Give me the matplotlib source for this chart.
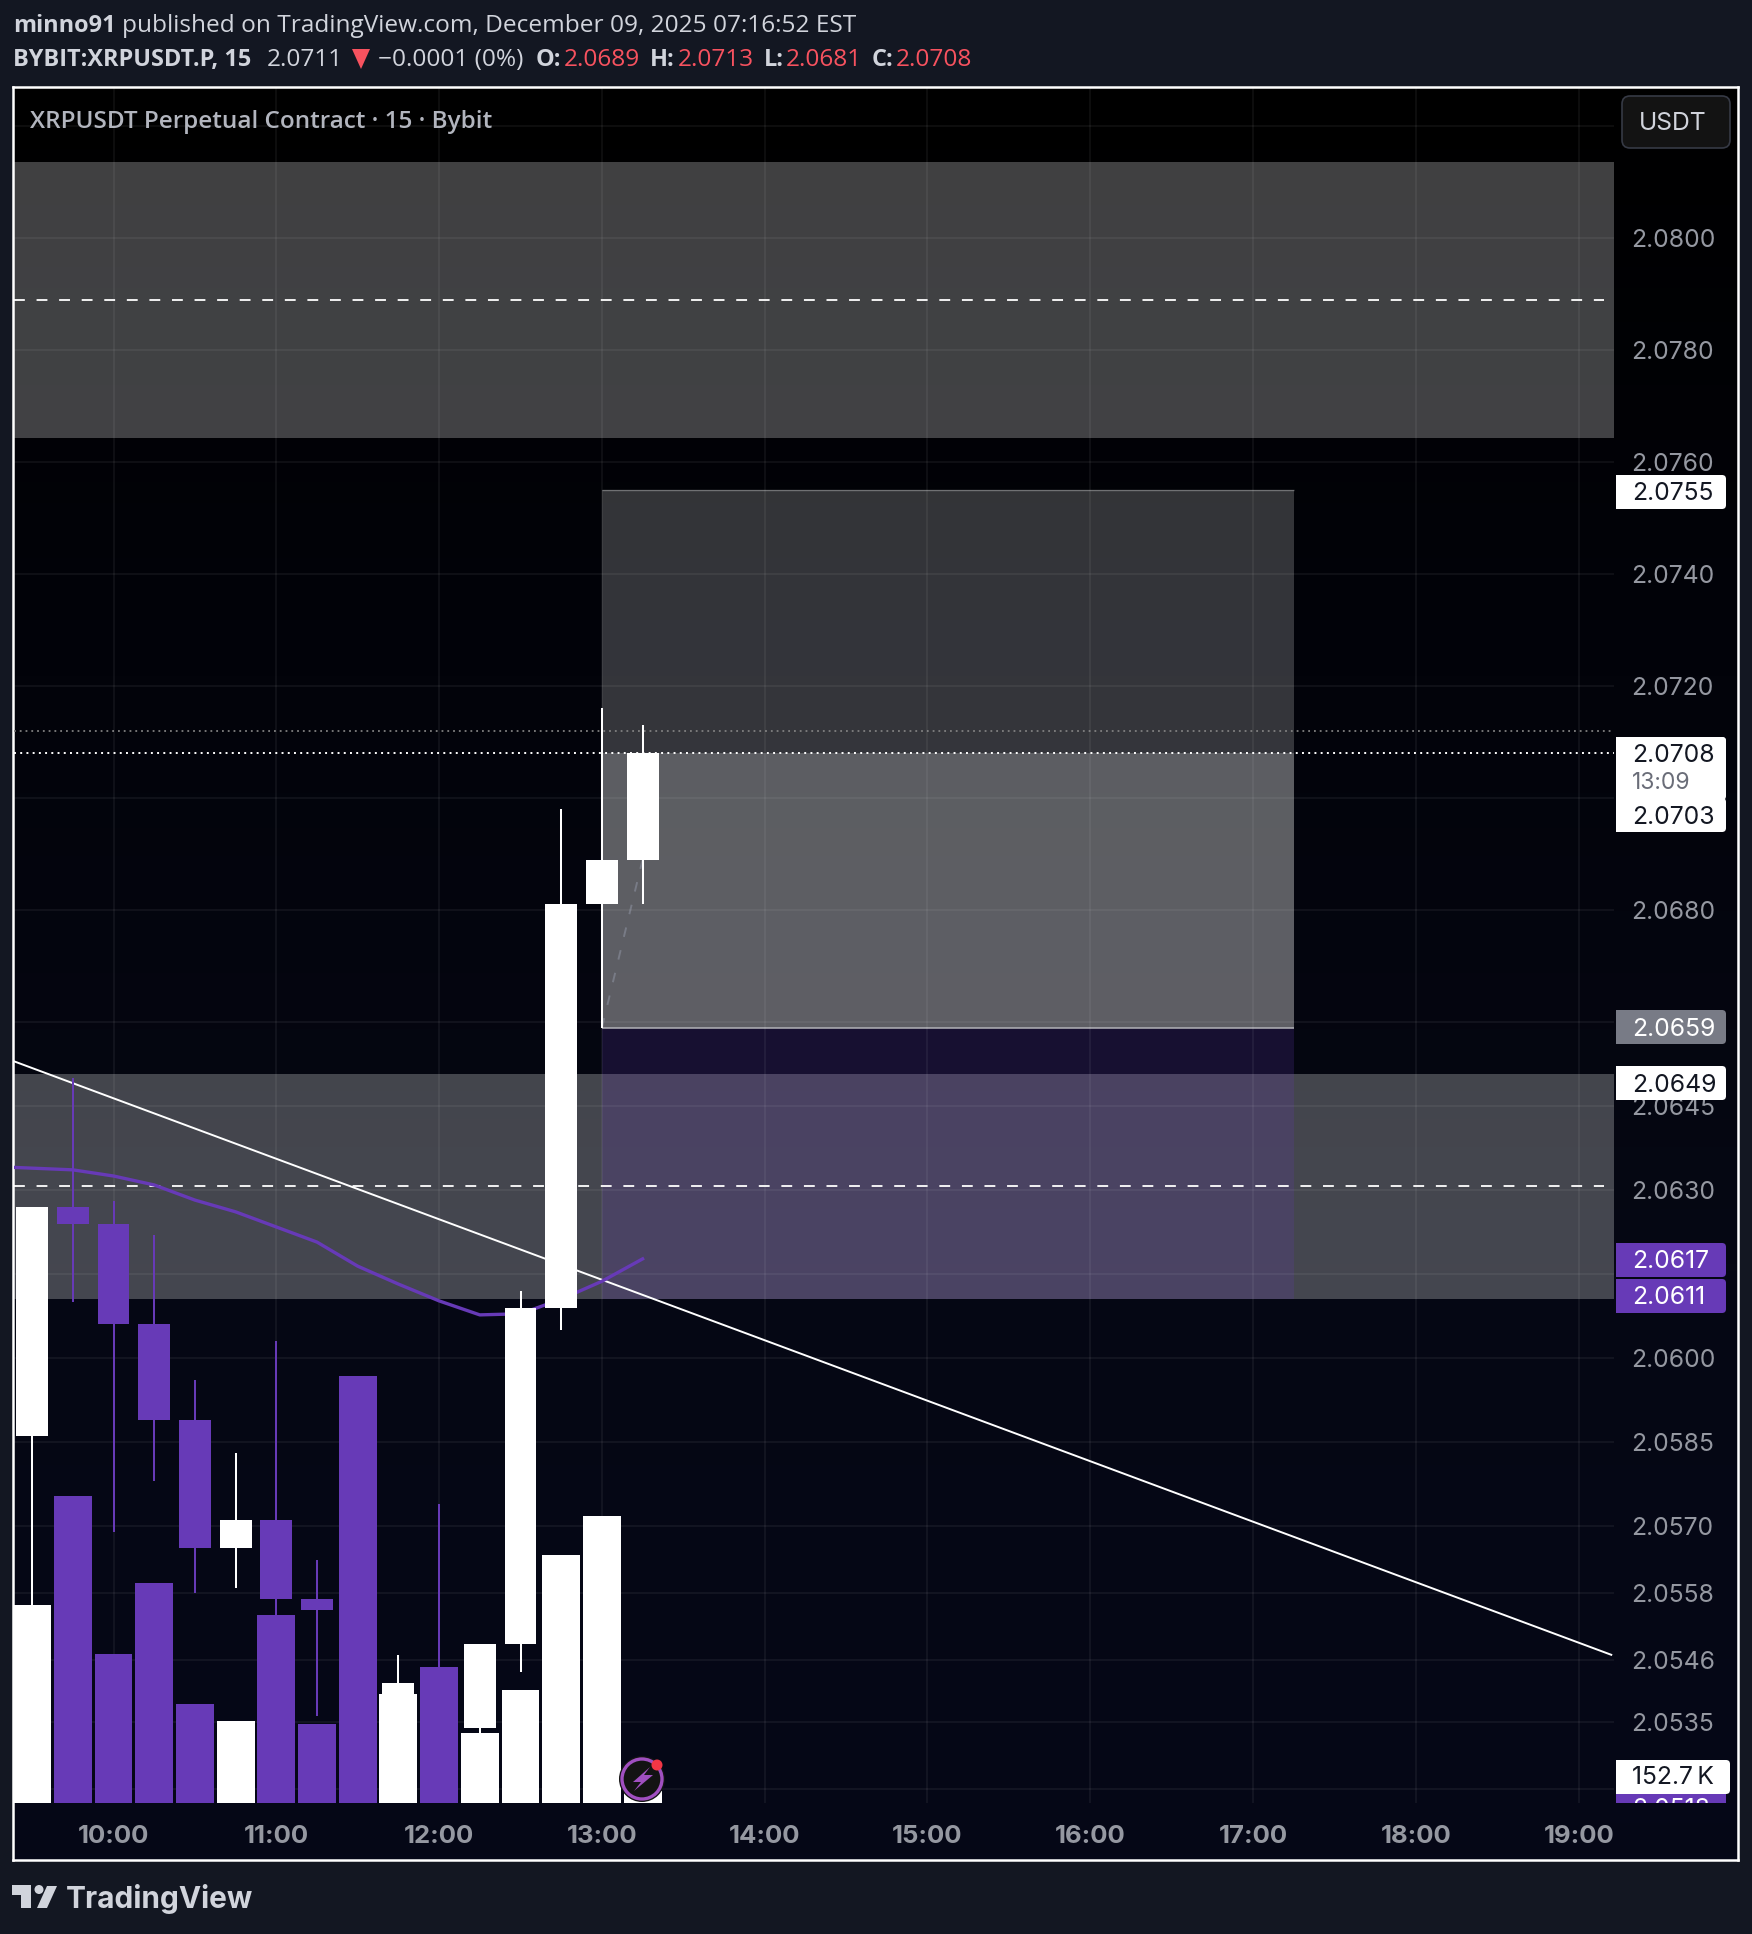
# -*- coding: utf-8 -*-
import numpy as np
import matplotlib
matplotlib.use("Agg")
import matplotlib.pyplot as plt
from matplotlib.colors import LinearSegmentedColormap
from matplotlib.patches import Rectangle, FancyBboxPatch, Circle, Polygon

# candles, times in hours of the day
times = [9.5, 9.75, 10, 10.25, 10.5, 10.75, 11, 11.25, 11.5, 11.75, 12, 12.25, 12.5, 12.75, 13, 13.25]
opens = [2.0586, 2.0627, 2.0624, 2.0606, 2.0589, 2.0566, 2.0571, 2.0557, 2.0555, 2.0521, 2.0542, 2.0534, 2.0549, 2.0609, 2.0681, 2.0689]
closes = [2.0627, 2.0624, 2.0606, 2.0589, 2.0566, 2.0571, 2.0557, 2.0555, 2.0521, 2.0542, 2.0534, 2.0549, 2.0609, 2.0681, 2.0689, 2.0708]
highs = [2.0627, 2.0650, 2.0628, 2.0622, 2.0596, 2.0583, 2.0603, 2.0564, 2.0555, 2.0547, 2.0574, 2.0549, 2.0612, 2.0698, 2.0716, 2.0713]
lows = [2.0555, 2.0610, 2.0569, 2.0578, 2.0558, 2.0559, 2.0553, 2.0536, 2.0520, 2.0520, 2.0521, 2.0520, 2.0544, 2.0605, 2.0659, 2.0681]
volumes_k = [2515, 3912, 1892, 2794, 1257, 1041, 2388, 1003, 5436, 1384, 1727, 889, 1435, 3150, 3658, 152.7]

ma_times = [9.25] + times
ma_values = [2.06342, 2.06339, 2.06336, 2.06325, 2.06309, 2.06282, 2.06261, 2.06234, 2.06207, 2.06164,
             2.06132, 2.06102, 2.06077, 2.06079, 2.06105, 2.06137, 2.06177]

trend_t = [9.387, 19.2]
trend_p = [2.0653, 2.0547]

upper_zone = [2.08136, 2.07643, 2.0789]
lower_zone = [2.06507, 2.06105, 2.06307]
pos_t = [13, 17.25]
pos_target, pos_entry, pos_stop = 2.0755, 2.0659, 2.06105
last_price, prev_price = 2.0708, 2.0712
entry_path_t = [13, 13.25]
entry_path_p = [2.0659, 2.0689]

grid_prices = [2.0820, 2.0800, 2.0780, 2.0760, 2.0740, 2.0720, 2.0700, 2.0680, 2.0660, 2.0645, 2.0630,
               2.0615, 2.0600, 2.0585, 2.0570, 2.0558, 2.0546, 2.0535, 2.0523]
shown_prices = [2.0800, 2.0780, 2.0760, 2.0740, 2.0720, 2.0680, 2.0645, 2.0630, 2.0600, 2.0585, 2.0570,
                2.0558, 2.0546, 2.0535]
hour_ticks = list(range(10, 20))

# text layout of the price scale badges: text, centre y px, fill, text colour
badges = [("2.0755", 492, "#ffffff", "#131722"),
          ("2.0708", 754, "#ffffff", "#131722"),
          ("2.0703", 815, "#ffffff", "#131722"),
          ("2.0659", 1027, "#787b86", "#ffffff"),
          ("2.0649", 1083, "#ffffff", "#131722"),
          ("2.0617", 1260, "#673ab7", "#ffffff"),
          ("2.0611", 1296, "#673ab7", "#ffffff")]

W, H = 1752, 1934
PURPLE = "#673ab7"
UI = "Open Sans"
NUM = "Inter"
NUM_SIZE = 17.8

fig = plt.figure(figsize=(W / 100, H / 100), dpi=100, facecolor="#131722")


def rect_for(x0, y0, x1, y1):
    return [x0 / W, 1 - y1 / H, (x1 - x0) / W, (y1 - y0) / H]


# background gradient inside the white frame
bg = fig.add_axes(rect_for(13, 87, 1738, 1860))
cmap = LinearSegmentedColormap.from_list("pane", ["#000000", "#02030a", "#060814", "#050717"])
bg.imshow(np.linspace(0, 1, 256).reshape(-1, 1), aspect="auto", cmap=cmap)
bg.set_xticks([])
bg.set_yticks([])
for s in bg.spines.values():
    s.set_color("#ffffff")
    s.set_linewidth(1.8)

# price pane
ax = fig.add_axes(rect_for(14, 88, 1614, 1803))
ax.patch.set_alpha(0)
x_lim = (10 + (14 - 113.5) / 162.8, 10 + (1614 - 113.5) / 162.8)
y_lim = (2.08 - (1803 - 238) / 56000, 2.08 + (238 - 88) / 56000)
ax.set_xlim(x_lim)
ax.set_ylim(y_lim)
for s in ax.spines.values():
    s.set_visible(False)

ax.axhspan(upper_zone[1], upper_zone[0], color="#ffffff", alpha=0.255, lw=0, zorder=1)
ax.axhspan(lower_zone[1], lower_zone[0], color="#ffffff", alpha=0.255, lw=0, zorder=1)
pw = pos_t[1] - pos_t[0]
ax.add_patch(Rectangle((pos_t[0], pos_entry), pw, pos_target - pos_entry, fc="#ffffff", alpha=0.2, lw=0, zorder=1.1))
ax.add_patch(Rectangle((pos_t[0], pos_entry), pw, last_price - pos_entry, fc="#ffffff", alpha=0.2, lw=0, zorder=1.2))
ax.add_patch(Rectangle((pos_t[0], pos_stop), pw, pos_entry - pos_stop, fc=PURPLE, alpha=0.2, lw=0, zorder=1.1))
ax.hlines(pos_target, pos_t[0], pos_t[1], color="#ffffff", alpha=0.3, lw=1, zorder=1.3)
ax.hlines(pos_entry, pos_t[0], pos_t[1], color="#b0b0b5", alpha=0.8, lw=1.4, zorder=1.3)

ax.grid(True, color="#ffffff", alpha=0.07, lw=1.1, zorder=1.5)
ax.set_axisbelow(False)

ax.hlines([upper_zone[2], lower_zone[2]], x_lim[0], x_lim[1] - 0.06, color="#ffffff", lw=1.3,
          linestyles=[(0, (6, 6.5))], zorder=2)
ax.hlines(prev_price, x_lim[0], x_lim[1], color="#808080", lw=1.3, linestyles=[(0, (1, 2.2))], zorder=2)
ax.hlines(last_price, x_lim[0], x_lim[1], color="#ffffff", lw=1.4, linestyles=[(0, (1, 2.2))], zorder=2)
ax.plot(entry_path_t, entry_path_p, color="#787b86", lw=1.4, ls=(0, (5, 7)), zorder=2)

# volume
vol = ax.twinx()
vol.set_ylim(0, 1715 * 12.725)
vol.axis("off")
vol.patch.set_alpha(0)
colors = ["#ffffff" if c >= o else PURPLE for o, c in zip(opens, closes)]
vol.bar(times, volumes_k, width=38 / 163, color=colors, lw=0)

# candles and lines over the volume
top = ax.twinx()
top.set_ylim(y_lim)
top.axis("off")
top.patch.set_alpha(0)
top.plot(trend_t, trend_p, color="#ffffff", lw=1.4, zorder=2)
top.plot(ma_times, ma_values, color=PURPLE, lw=2.4, zorder=2.1)
top.vlines(times, lows, highs, colors=colors, lw=1.45, zorder=3)
body_low = [min(o, c) for o, c in zip(opens, closes)]
body_h = [abs(c - o) for o, c in zip(opens, closes)]
top.bar(times, body_h, bottom=body_low, width=32 / 163, color=colors, lw=0, zorder=4)

# ticks go last, twinx moves them back to the left
ax.set_xlim(x_lim)
ax.set_ylim(y_lim)
ax.set_yticks(grid_prices, [f"{p:.4f}" if p in shown_prices else "" for p in grid_prices])
ax.set_xticks(hour_ticks, [f"{h}:00" for h in hour_ticks])
ax.yaxis.tick_right()
ax.tick_params(axis="y", length=0, pad=12.5, labelcolor="#9598a1", labelsize=NUM_SIZE)
ax.tick_params(axis="x", length=0, pad=16, labelcolor="#9598a1", labelsize=18.5)
for t in ax.get_yticklabels() + ax.get_xticklabels():
    t.set_fontfamily(NUM)
for t in ax.get_xticklabels():
    t.set_fontweight("bold")

# pixel overlay for the page furniture
ov = fig.add_axes([0, 0, 1, 1])
ov.set_xlim(0, W)
ov.set_ylim(H, 0)
ov.axis("off")
ov.patch.set_alpha(0)


def label_box(y0, y1, fill, x0=1616, x1=1726, r=4):
    ov.add_patch(FancyBboxPatch((x0 + r, y0 + r), x1 - x0 - 2 * r, y1 - y0 - 2 * r,
                                boxstyle=f"round,pad={r},rounding_size={r}", fc=fill, ec="none", zorder=5))
    ov.add_patch(Rectangle((x0, y0), 10, y1 - y0, fc=fill, ec="none", zorder=5))


label_box(737, 800, "#ffffff")
for txt, y, fill, col in badges:
    label_box(y - 17, y + 17, fill)
for txt, y, fill, col in badges:
    ov.text(1632, y + 2, txt, family=NUM, fontsize=NUM_SIZE, color=col, va="center", ha="left", zorder=6)
ov.text(1632, 783, "13:09", family=NUM, fontsize=16.5, color="#6a6d78", va="center", ha="left", zorder=6)

# clipped bottom badge and volume badge
label_box(1780, 1815, PURPLE)
ov.add_patch(Rectangle((1610, 1803), 125, 20, fc="#050717", ec="none", zorder=5.5))
t = ov.text(1632, 1810, "2.0518", family=NUM, fontsize=NUM_SIZE, color="#ffffff", va="center", zorder=6)
t.set_clip_on(True)
t.set_clip_path(Rectangle((1610, 1790), 125, 13, transform=ov.transData))
label_box(1760, 1794, "#ffffff", x1=1730)
ov.text(1632, 1778, "152.7\u2009K", family=[NUM, "DejaVu Sans"], fontsize=NUM_SIZE, color="#131722", va="center", zorder=6)

# USDT button
ov.add_patch(FancyBboxPatch((1622, 96), 108, 52, boxstyle="round,pad=0,rounding_size=8",
                            fc="#131313", ec="#363a45", lw=1.2, zorder=5))
ov.text(1673, 123, "USDT", family=NUM, fontsize=NUM_SIZE, color="#d1d4dc", ha="center", va="center", zorder=6)

# bolt badge
ov.add_patch(Circle((642, 1779), 23, fc="#131313", ec="none", zorder=7))
ov.add_patch(Circle((642, 1779), 20, fc="#131313", ec="#a04fc0", lw=2.4, zorder=7))
ov.add_patch(Polygon([(650, 1767), (633, 1782), (641, 1782), (634, 1791), (653, 1775), (644, 1775)],
                     fc="#a04fc0", ec="none", zorder=8))
ov.add_patch(Circle((657, 1765), 5.5, fc="#f23645", ec="none", zorder=8))

# header
HEAD = 17.6
HEAD_B = 16.9
ov.text(13, 26.5, "minno91", family=UI, fontweight="bold", fontsize=HEAD_B, color="#d1d4dc", va="center")
ov.text(122, 26.5, "published on TradingView.com, December 09, 2025 07:16:52 EST", family=UI, fontsize=HEAD,
        color="#d1d4dc", va="center")
RED = "#f7525f"
ov.text(13, 60, "BYBIT:XRPUSDT.P, 15", family=UI, fontweight="bold", fontsize=HEAD_B, color="#d1d4dc", va="center")
ov.text(267, 60, "2.0711", family=UI, fontsize=HEAD, color="#d1d4dc", va="center")
ov.add_patch(Polygon([(352, 49), (370, 49), (361, 69)], fc=RED, ec="none"))
ov.text(378, 60, "\u22120.0001 (0%)", family=UI, fontsize=HEAD, color="#d1d4dc", va="center")
for lab, lx, val, vx in [("O:", 536, "2.0689", 564), ("H:", 650, "2.0713", 678),
                         ("L:", 764, "2.0681", 786), ("C:", 872, "2.0708", 896)]:
    ov.text(lx, 60, lab, family=UI, fontweight="bold", fontsize=HEAD_B, color="#d1d4dc", va="center")
    ov.text(vx, 60, val, family=UI, fontsize=HEAD, color=RED, va="center")

ov.text(30, 122, "XRPUSDT Perpetual Contract \u00b7 15 \u00b7 Bybit", family=UI, fontweight="semibold",
        fontsize=17.5, color="#b2b5be", va="center", zorder=6)

# logo
LOGO = "#d1d4dc"
ov.add_patch(Polygon([(12, 1885), (31, 1885), (31, 1908), (21, 1908), (21, 1895), (12, 1895)], fc=LOGO, ec="none"))
ov.add_patch(Circle((39, 1889.5), 4.5, fc=LOGO, ec="none"))
ov.add_patch(Polygon([(47, 1886), (57, 1886), (47, 1908), (37, 1908)], fc=LOGO, ec="none"))
ov.text(66, 1899, "TradingView", family=NUM, fontweight="bold", fontsize=21.5, color=LOGO, va="center")

fig.savefig("out.png", dpi=100, facecolor=fig.get_facecolor())
